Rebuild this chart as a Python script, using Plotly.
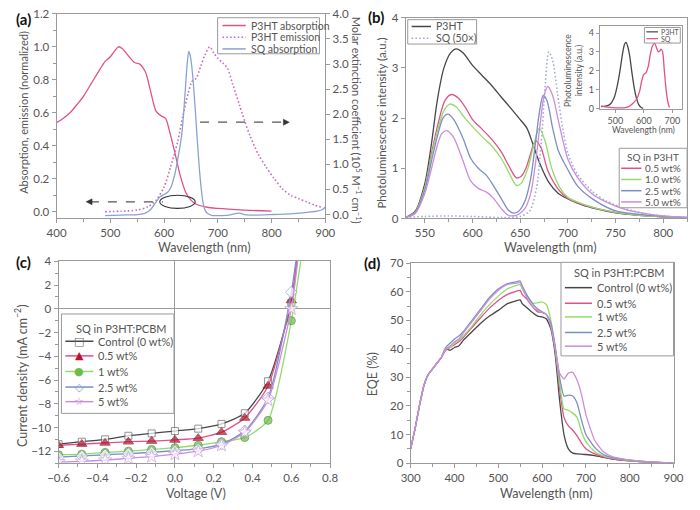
import plotly.graph_objects as go

# ---------------- DATA ----------------
# (a)
a_abs_wl = [400,412,425,438,450,465,480,490,500,508,515,522,530,545,555,565,575,585,595,603,610,620,630,640,650,660,680,700,750,800]
a_abs = [0.54,0.565,0.60,0.65,0.70,0.78,0.86,0.91,0.94,0.975,1.0,0.99,0.96,0.905,0.895,0.85,0.73,0.61,0.58,0.565,0.49,0.36,0.22,0.12,0.07,0.045,0.027,0.02,0.01,0.003]
a_em_wl = [490,520,550,570,585,600,612,625,635,645,652,660,668,676,685,693,700,710,718,728,740,750,760,775,790,805,820,835,850,865,880,895]
a_em = [0.0,0.003,0.01,0.03,0.07,0.15,0.27,0.42,0.58,0.72,0.79,0.81,0.88,0.95,1.0,0.96,0.93,0.9,0.87,0.77,0.65,0.55,0.46,0.35,0.27,0.2,0.14,0.1,0.08,0.06,0.04,0.025]
a_sq_wl = [490,520,550,565,575,585,592,600,607,613,620,627,633,639,643,646,649,653,658,663,667,671,675,680,690,700,720,740,750,770,800,840,870,885,895,900]
a_sq = [-0.02,-0.01,0.0,0.03,0.1,0.25,0.35,0.40,0.45,0.55,0.8,1.2,1.6,2.4,3.0,3.25,3.15,2.8,2.1,1.3,0.75,0.35,0.12,0.03,-0.02,-0.02,-0.01,0.03,0.0,-0.01,0.0,0.02,0.05,0.07,0.1,0.15]

# (b)
b_p3ht_wl = [530,540,550,557,563,570,577,583,590,600,610,620,630,640,650,657,663,670,680,690,700,715,730,750,775,800,825]
b_p3ht = [0.02,0.15,0.7,1.5,2.35,3.0,3.3,3.38,3.3,3.05,2.85,2.65,2.42,2.2,1.97,1.8,1.5,1.12,0.72,0.5,0.39,0.27,0.19,0.11,0.06,0.03,0.01]
b_sq_wl = [530,550,575,600,630,650,660,667,672,676,680,684,689,695,700,710,725,740,760,780,800,825]
b_sq = [0.02,0.04,0.05,0.04,0.02,0.04,0.15,0.6,1.5,2.6,3.32,3.15,2.5,1.75,1.3,0.88,0.55,0.35,0.2,0.1,0.05,0.02]
b_05_wl = [530,540,550,557,564,571,578,585,593,600,610,620,630,638,646,651,656,661,666,672,679,690,700,715,730,750,775,800,825]
b_05 = [0.02,0.13,0.62,1.3,1.9,2.35,2.47,2.4,2.2,1.97,1.78,1.58,1.33,1.05,0.81,0.84,1.0,1.3,1.55,1.4,0.95,0.58,0.4,0.28,0.2,0.12,0.06,0.03,0.01]
b_10_wl = [530,540,550,557,564,570,576,583,592,600,610,620,630,638,646,651,658,664,670,676,683,692,700,715,730,750,775,800,825]
b_10 = [0.02,0.13,0.62,1.25,1.8,2.15,2.28,2.22,2.0,1.83,1.63,1.45,1.2,0.92,0.66,0.7,1.0,1.45,1.8,1.55,1.0,0.6,0.42,0.29,0.2,0.12,0.06,0.03,0.01]
b_25_wl = [530,540,550,557,564,569,574,580,590,598,606,615,622,630,637,642,648,655,661,666,670,674,678,684,690,700,710,725,750,775,800,825]
b_25 = [0.02,0.12,0.57,1.15,1.7,2.0,2.08,1.98,1.6,1.2,1.0,0.85,0.65,0.4,0.18,0.11,0.14,0.35,0.8,1.5,2.1,2.45,2.35,1.8,1.35,0.97,0.65,0.4,0.15,0.08,0.04,0.02]
b_50_wl = [530,540,550,557,563,568,573,580,590,598,606,615,622,630,637,642,648,655,661,666,671,675,679,684,690,700,710,725,740,760,780,800,825]
b_50 = [0.02,0.1,0.5,1.0,1.45,1.7,1.75,1.62,1.15,0.75,0.6,0.52,0.4,0.2,0.07,0.05,0.08,0.2,0.5,1.1,1.9,2.45,2.63,2.45,1.95,1.18,0.82,0.5,0.33,0.18,0.1,0.05,0.02]

# (b) inset
i_p3ht_wl = [450,465,480,495,505,515,525,532,537,543,550,558,565,573,582,592,598]
i_p3ht = [0.1,0.12,0.2,0.55,1.1,1.9,2.9,3.4,3.5,3.3,2.8,1.9,1.2,0.6,0.2,0.03,0.0]
i_sq_wl = [450,465,480,500,530,545,560,575,585,593,600,608,615,622,630,638,645,651,656,661,666,672,679,685,690]
i_sq = [0.12,0.08,0.05,0.03,0.03,0.08,0.25,0.5,0.9,1.5,1.8,1.9,2.2,2.8,3.3,3.45,3.2,3.0,3.05,3.15,3.0,2.0,0.9,0.3,0.05]

# (c)
c_v = [-0.6,-0.48,-0.36,-0.24,-0.12,0.0,0.12,0.24,0.36,0.48,0.6]
c_ctrl = [-11.4,-11.2,-11.0,-10.7,-10.5,-10.3,-10.1,-9.7,-8.8,-6.1,0.5]
c_05 = [-11.5,-11.4,-11.3,-11.2,-11.15,-11.05,-10.9,-10.4,-9.2,-6.5,0.7]
c_1 = [-12.3,-12.25,-12.1,-12.0,-11.85,-11.7,-11.5,-11.2,-10.85,-9.4,-1.0]
c_25 = [-12.5,-12.4,-12.3,-12.2,-12.1,-11.95,-11.8,-11.4,-10.3,-7.5,1.4]
c_5 = [-12.9,-12.85,-12.75,-12.6,-12.45,-12.25,-12.0,-11.5,-10.4,-7.7,0.0]
c_end_v = [0.63, 0.65, 0.625, 0.634]     # voltage where each curve leaves the top (ctrl & 0.5 / 1 / 2.5 / 5 wt%)
c_end_j = 4.2

# (d)
d_wl = [300,310,320,330,340,350,360,370,380,390,400,410,420,440,460,480,500,520,540,550,555,565,580,590,600,610,620,630,640,650,660,670,680,690,700,720,740,760,800,850,900]
d_ctrl = [5,12,20,27,31,33,35,37,40,39.5,40.5,41,43,46,49,51.5,53.5,55.8,56.8,57.2,55.8,54.5,52.5,51.5,51.2,50.5,47,38,22,10,5,3.5,3.2,3.1,3,2.6,2.0,1.4,0.8,0.3,0]
d_05 = [5,12,20,27,31,33,35,37,39.5,40.5,41.5,42.5,44,47.5,51,54.3,57,59,60.2,60.5,59,57.5,54.5,53,52.8,52,48,40,26,16,13,11.5,9.5,7,5,3.2,2.2,1.5,0.8,0.3,0]
d_1 = [5,12,20,27,31,33,35,37,40,40.5,42,43,44.5,48,52,55.5,58.5,61,62.2,62.5,61,58.5,56,56.2,56.5,55.5,50,40,28,19,18.5,17.5,16,11,7.5,4,2.5,1.7,0.9,0.3,0]
d_25 = [5,12,20,27,31,33,35,37,40.5,42,43.5,44.5,46,50,54,58,61,62.8,63.5,63.8,62,59,55.5,54,53,52,49,41,30,23.5,23.8,23.5,21,15,10,5.5,3,1.9,1,0.3,0]
d_5 = [5,12,20,27,31,33,35,37,40,41,42.5,43.5,45.5,49.5,53.5,57.5,60.5,62.5,63,63.2,61.5,58,54.5,53.5,52.8,52,48,40,31.5,29.5,31.5,31.8,29,24,17,8,4,2.3,1.1,0.4,0]

# ---------------- STYLE ----------------
FONT = "Lato"
TXT = "#555555"
AX = "#9a9a9a"
PINK = "#e2508a"
EMIS = "#c86cbc"
DARK = "#474747"
GREEN = "#92dc6c"
BLUE = "#7a8fc4"
PURPLE = "#cb8ddc"
SQBLUE = "#8aa2d2"
SQDOT = "#a3aed6"
DOTS = "1.6px,2.2px"
W, H = 700, 510

def px(x): return x / W
def py(y): return 1 - y / H

fig = go.Figure()

def add(x, y, color, xa, ya, dash="solid", width=1.3, smooth=0.8):
    fig.add_trace(go.Scatter(x=x, y=y, mode="lines", xaxis=xa, yaxis=ya, showlegend=False,
                             line=dict(color=color, width=width, dash=dash, shape="spline", smoothing=smooth),
                             hoverinfo="skip"))

# (a)
add(a_abs_wl, a_abs, PINK, "x", "y")
add(a_em_wl, a_em, EMIS, "x", "y", dash=DOTS, width=1.6)
add(a_sq_wl, a_sq, SQBLUE, "x", "y2")
# (b)
add(b_p3ht_wl, b_p3ht, DARK, "x3", "y3")
add(b_sq_wl, b_sq, SQDOT, "x3", "y3", dash=DOTS, width=1.6)
add(b_05_wl, b_05, PINK, "x3", "y3")
add(b_10_wl, b_10, GREEN, "x3", "y3")
add(b_25_wl, b_25, BLUE, "x3", "y3")
add(b_50_wl, b_50, PURPLE, "x3", "y3")
# inset
add(i_p3ht_wl, i_p3ht, DARK, "x4", "y4")
add(i_sq_wl, i_sq, PINK, "x4", "y4")
# (c)
c_series = [
    (c_ctrl, DARK, dict(symbol="square", color="white", size=7, line=dict(color="#666", width=1)), c_end_v[0]),
    (c_05, PINK, dict(symbol="triangle-up", color="#b3142f", size=9, line=dict(color="#8a0f22", width=1)), c_end_v[0]),
    (c_1, GREEN, dict(symbol="circle", color="#6dbd48", size=8, line=dict(color="#3f8a2a", width=1)), c_end_v[1]),
    (c_25, BLUE, dict(symbol="diamond", color="white", size=9, line=dict(color="#8a9fd0", width=1)), c_end_v[2]),
    (c_5, PURPLE, dict(symbol="star", color="white", size=10, line=dict(color="#c99ae0", width=1)), c_end_v[3]),
]
for ys, col, mk, ve in c_series:
    xs = c_v + [ve]
    yy = ys + [c_end_j]
    sizes = [mk["size"]] * len(c_v) + [0]
    m = dict(mk); m["size"] = sizes
    fig.add_trace(go.Scatter(x=xs, y=yy, mode="lines+markers", xaxis="x5", yaxis="y5", showlegend=False,
                             line=dict(color=col, width=1.3, shape="spline", smoothing=0.6),
                             marker=m, hoverinfo="skip"))
# (d)
for ys, col in [(d_ctrl, DARK), (d_05, PINK), (d_1, GREEN), (d_25, BLUE), (d_5, PURPLE)]:
    add(d_wl, ys, col, "x6", "y6", smooth=0.5)

def axis(domain, rng, dtick, anchor, fmt=None, size=11.5, tick0=None, minor=None, **kw):
    d = dict(domain=domain, range=rng, dtick=dtick, anchor=anchor, showline=True, linecolor=AX, linewidth=1,
             mirror=True, ticks="outside", ticklen=4, tickcolor=AX, showgrid=False, zeroline=False,
             tickfont=dict(family=FONT, size=size, color=TXT), fixedrange=True)
    if fmt: d["tickformat"] = fmt
    if tick0 is not None: d["tick0"] = tick0
    if minor: d["minor"] = dict(ticks="outside", ticklen=2.5, tickcolor=AX, dtick=minor)
    d.update(kw)
    return d

ydomA = [py(217), py(7)]
fig.update_layout(
    xaxis=axis([px(47), px(324)], [400, 900], 100, "y", minor=50),
    yaxis=axis(ydomA, [-0.041, 1.2], 0.2, "x", fmt=".1f", minor=0.1),
    yaxis2=axis(ydomA, [-0.078, 4.0], 0.5, "x", fmt=".1f", overlaying="y", side="right", mirror=False),
    xaxis3=axis([px(407), px(697)], [530, 825], 50, "y3", tick0=550, minor=25),
    yaxis3=axis([py(217), py(11)], [0, 4], 1, "x3"),
    xaxis4=axis([px(607), px(692)], [445, 735], 100, "y4", size=9, ticklen=3),
    yaxis4=axis([py(105), py(19)], [-0.05, 4.4], 1, "x4", size=9, ticklen=3),
    xaxis5=axis([px(49), px(329)], [-0.6, 0.8], 0.2, "y5", fmt=".1f", minor=0.1,
                zeroline=True, zerolinecolor=AX, zerolinewidth=1),
    yaxis5=axis([py(468), py(261)], [-13, 4], 2, "x5", minor=1,
                zeroline=True, zerolinecolor=AX, zerolinewidth=1),
    xaxis6=axis([px(412), px(683)], [300, 900], 100, "y6", minor=50),
    yaxis6=axis([py(468), py(263)], [0, 70], 10, "x6", minor=5),
    width=W, height=H, margin=dict(l=0, r=0, t=0, b=0),
    paper_bgcolor="white", plot_bgcolor="white", showlegend=False,
    font=dict(family=FONT, color=TXT),
)

shapes = []
ann = []

def txt(x, y, s, size=11, color=TXT, xanchor="left", angle=0, bold=False):
    ann.append(dict(x=px(x), y=py(y), xref="paper", yref="paper", text=("<b>%s</b>" % s) if bold else s,
                    showarrow=False, xanchor=xanchor, yanchor="middle", textangle=angle,
                    font=dict(family=FONT, size=size, color=color)))

def box(x0, y0, x1, y1):
    shapes.append(dict(type="rect", xref="paper", yref="paper", x0=px(x0), x1=px(x1), y0=py(y1), y1=py(y0),
                       line=dict(color=AX, width=1), fillcolor="white", layer="above"))

def lline(x0, x1, y, color, dash="solid", width=1.5):
    shapes.append(dict(type="line", xref="paper", yref="paper", x0=px(x0), x1=px(x1), y0=py(y), y1=py(y),
                       line=dict(color=color, width=width, dash=dash), layer="above"))

# panel labels
txt(3, 12, "(a)", 15, "#111", bold=True)
txt(366, 10, "(b)", 15, "#111", bold=True)
txt(3, 262, "(c)", 15, "#111", bold=True)
txt(362, 263, "(d)", 15, "#111", bold=True)

# axis titles
txt(199, 247, "Wavelength (nm)", 12.5, xanchor="center")
txt(13, 108, "Absorption, emission (normalized)", 11, xanchor="center", angle=-90)
txt(357, 116, "Molar extinction coefficient (10<sup>5</sup> M<sup>−1</sup> cm<sup>−1</sup>)", 11, xanchor="center", angle=90)
txt(382, 119, "Photoluminescence intensity (a.u.)", 11.5, xanchor="center", angle=-90)
txt(556, 247, "Wavelength (nm)", 12.5, xanchor="center")
txt(10, 378, "Current density (mA cm<sup>−2</sup>)", 12.5, xanchor="center", angle=-90)
txt(191, 499, "Voltage (V)", 12.5, xanchor="center")
txt(373, 377, "EQE (%)", 12.5, xanchor="center", angle=-90)
txt(552, 499, "Wavelength (nm)", 12.5, xanchor="center")
# inset titles
txt(580, 65, "Photoluminescence<br>intensity (a.u.)", 8.5, xanchor="center", angle=-90)
txt(652, 126, "Wavelength (nm)", 8.5, xanchor="center")

# (a) legend
box(213, 11, 318, 48)
lline(218, 242, 19, PINK)
lline(218, 242, 31, EMIS, dash=DOTS, width=1.6)
lline(218, 242, 43, SQBLUE)
txt(245, 19, "P3HT absorption", 10.5)
txt(245, 31, "P3HT emission", 10.5)
txt(245, 43, "SQ absorption", 10.5)

# (b) upper legend
box(409, 13, 480, 38)
lline(413, 433, 20, DARK)
lline(413, 433, 32, SQDOT, dash=DOTS, width=1.6)
txt(436, 20, "P3HT", 10.5)
txt(436, 32, "SQ (50×)", 10.5)

# (b) lower legend
box(627, 145, 697, 206)
txt(662, 154, "SQ in P3HT", 10, xanchor="center")
for yy, col, lab in [(165.5, PINK, "0.5 wt%"), (177, GREEN, "1.0 wt%"), (188.5, BLUE, "2.5 wt%"), (200, PURPLE, "5.0 wt%")]:
    lline(629, 650, yy, col)
    txt(652, yy, lab, 10)

# inset legend
box(653, 21, 690, 37)
lline(655, 667, 25.5, DARK, width=1.2)
lline(655, 667, 32.5, PINK, width=1.2)
txt(668, 25.5, "P3HT", 7)
txt(668, 32.5, "SQ", 7)

# (c) legend
box(52, 315, 168, 417)
txt(65, 330, "SQ in P3HT:PCBM", 11)
for yy, col, glyph, gcol, lab in [(343, DARK, "□", "#666", "Control (0 wt%)"),
                                   (358, PINK, "▲", "#b3142f", "0.5 wt%"),
                                   (374, GREEN, "●", "#6dbd48", "1 wt%"),
                                   (390, BLUE, "◇", "#8a9fd0", "2.5 wt%"),
                                   (405, PURPLE, "☆", "#c99ae0", "5 wt%")]:
    lline(56, 85, yy, col)
    ann.append(dict(x=px(70.5), y=py(yy), xref="paper", yref="paper", text=glyph, showarrow=False,
                    xanchor="center", yanchor="middle",
                    font=dict(family="DejaVu Sans", size=11, color=gcol)))
    txt(88, yy, lab, 11)

# (d) legend
box(567, 262, 683, 358)
txt(578, 272, "SQ in P3HT:PCBM", 11)
for yy, col, lab in [(288, DARK, "Control (0 wt%)"), (304, PINK, "0.5 wt%"), (318, GREEN, "1 wt%"),
                     (334, BLUE, "2.5 wt%"), (348, PURPLE, "5 wt%")]:
    lline(571, 599, yy, col)
    txt(602, yy, lab, 11)

# (a) dashed arrows and ellipse
shapes.append(dict(type="line", xref="x", yref="y", x0=462, x1=598, y0=0.06, y1=0.06,
                   line=dict(color="#555", width=1.2, dash="dash")))
shapes.append(dict(type="path", xref="x", yref="y", path="M 455,0.06 L 466,0.078 L 466,0.042 Z",
                   fillcolor="#333", line=dict(color="#333", width=0.5)))
shapes.append(dict(type="line", xref="x", yref="y2", x0=667, x1=826, y0=1.84, y1=1.84,
                   line=dict(color="#555", width=1.2, dash="dash")))
shapes.append(dict(type="path", xref="x", yref="y2", path="M 833,1.84 L 822,1.9 L 822,1.78 Z",
                   fillcolor="#333", line=dict(color="#333", width=0.5)))
shapes.append(dict(type="circle", xref="x", yref="y", x0=592, x1=658, y0=0.02, y1=0.1,
                   line=dict(color="#333", width=1.1)))

fig.update_layout(shapes=shapes, annotations=ann)
fig.write_html("out.html", config={"displayModeBar": False},
               post_script="document.body.style.margin='0';document.body.style.overflow='hidden';")
